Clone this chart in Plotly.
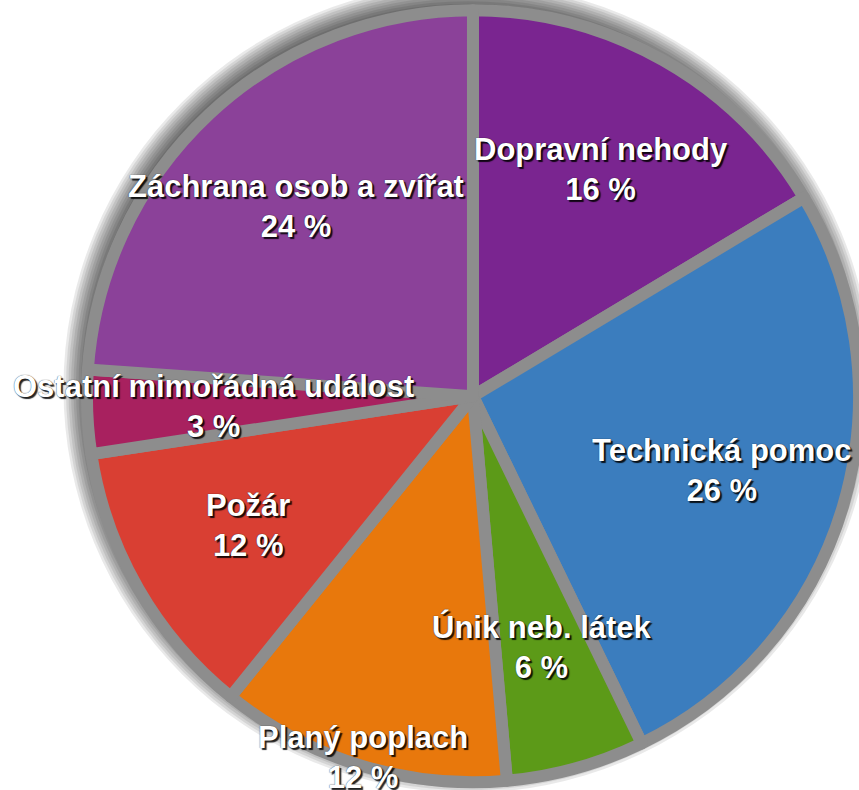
import math
import plotly.graph_objects as go

categories = ["Dopravní nehody", "Technická pomoc", "Únik neb. látek", "Planý poplach",
              "Požár", "Ostatní mimořádná událost", "Záchrana osob a zvířat"]
values = [16.4, 26.4, 5.8, 12.2, 11.8, 3.5, 23.9]
percent_labels = [16, 26, 6, 12, 12, 3, 24]
colors = ["#7A2590", "#3B7DBE", "#5C9A18", "#E8780C", "#D93F33", "#A8215F", "#8B4199"]

W, H = 859, 790
dom_x = [0.1012, 1.0]
dom_y = [0.005, 0.992]
line_w = 12
cx = (dom_x[0] + dom_x[1]) / 2 * W
cy = (1 - (dom_y[0] + dom_y[1]) / 2) * H
r_plot = min((dom_x[1] - dom_x[0]) * W, (dom_y[1] - dom_y[0]) * H) / 2
r_col = r_plot - line_w / 2

fig = go.Figure()
fig.add_trace(go.Pie(
    labels=categories, values=values, sort=False, direction="clockwise", rotation=0,
    marker=dict(colors=colors, line=dict(color="#8d8d8d", width=line_w)),
    textinfo="none", hoverinfo="label+percent", showlegend=False,
    domain=dict(x=dom_x, y=dom_y),
))

# soft drop shadow (offset towards upper-left)
shapes = []
for k in range(9, 0, -1):
    rr = r_plot - 4 + k * 2.5
    sx, sy = cx - 5, cy - 8
    shapes.append(dict(type="circle", xref="paper", yref="paper", layer="below",
                       x0=(sx - rr) / W, x1=(sx + rr) / W,
                       y0=1 - (sy + rr) / H, y1=1 - (sy - rr) / H,
                       fillcolor="rgba(0,0,0,0.085)", line=dict(width=0)))

label_radius = [0.684, 0.684, 0.684, 0.995, 0.684, 0.684, 0.684]
total = sum(values)
annotations = []
cum = 0.0
for name, v, p, f in zip(categories, values, percent_labels, label_radius):
    mid = (cum + v / 2) / total * 2 * math.pi
    cum += v
    px = cx + r_col * f * math.sin(mid)
    py = cy - r_col * f * math.cos(mid)
    annotations.append(dict(
        x=px / W, y=1 - py / H, xref="paper", yref="paper",
        text=f"{name}<br>{p} %", showarrow=False, xanchor="center", yanchor="middle",
        align="center",
        font=dict(family="Liberation Sans, Arial, sans-serif", size=31, color="white",
                  weight="bold",
                  shadow="0 0 1px rgba(0,0,0,0.9), 2px 2px 1px rgba(0,0,0,0.85)"),
    ))

fig.update_layout(
    width=W, height=H, margin=dict(l=0, r=0, t=0, b=0),
    paper_bgcolor="white", plot_bgcolor="white",
    shapes=shapes, annotations=annotations,
)
fig.write_html("out.html", config={"displayModeBar": False},
               post_script="document.body.style.margin='0';")
